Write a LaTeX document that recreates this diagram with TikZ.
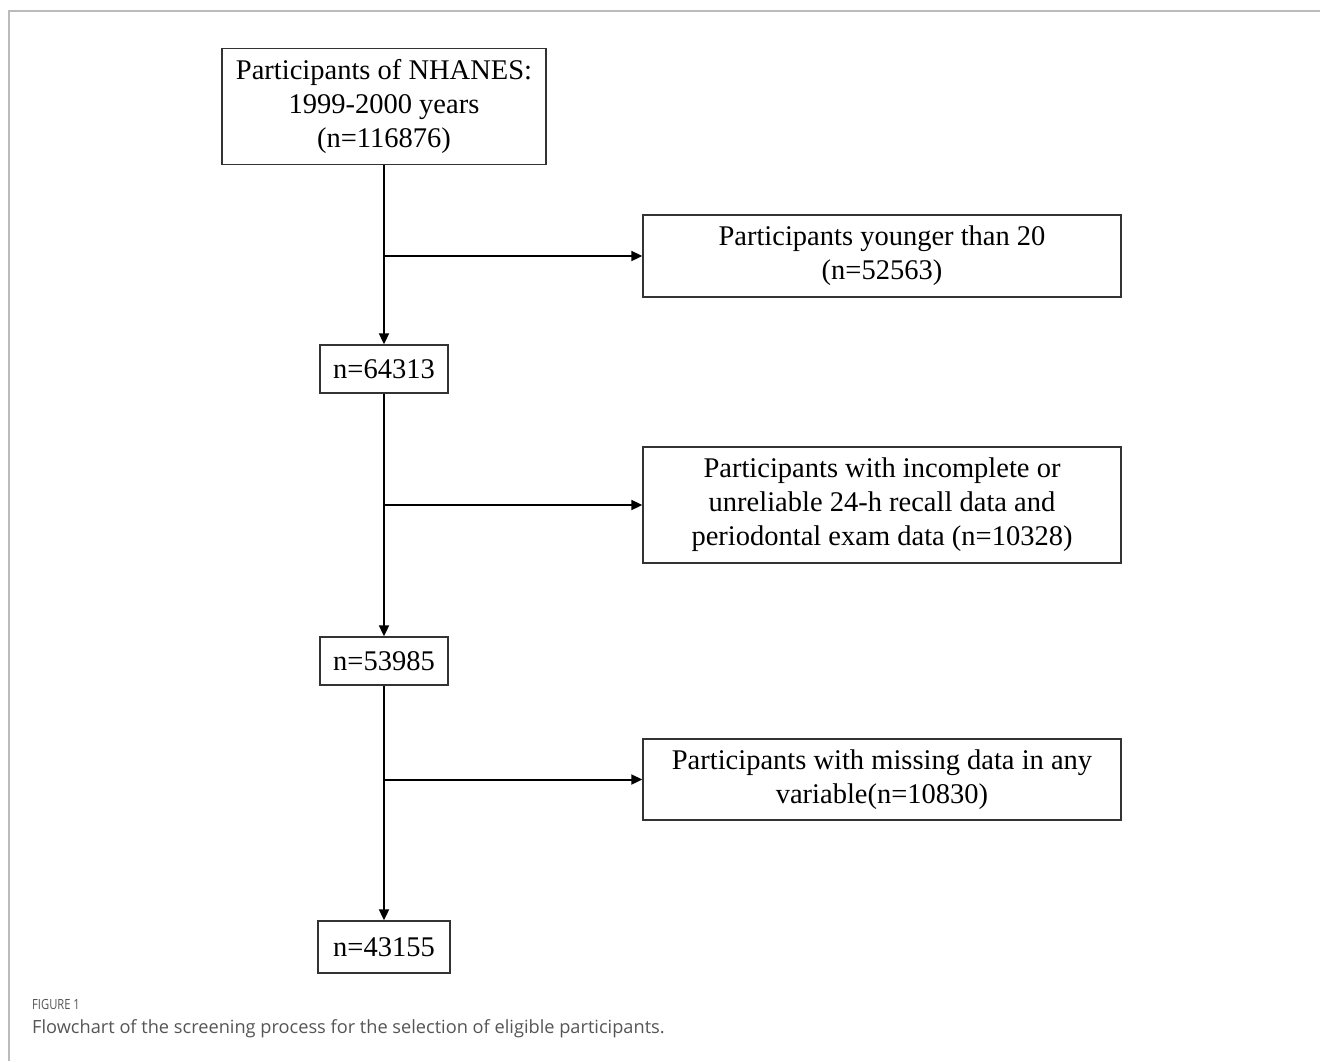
\documentclass[tikz,border=0pt]{standalone}
\usepackage{fontspec}
\setmainfont{Liberation Serif}
\newfontfamily\capfont{Open Sans}
\usetikzlibrary{arrows.meta}
\definecolor{framegray}{HTML}{BBBBBB}
\definecolor{capgray}{HTML}{555555}
\definecolor{boxline}{HTML}{333333}
\tikzset{
  flowbox/.style={draw=boxline, line width=1.4pt, inner sep=0pt, align=center,
    font=\fontsize{28.5}{34}\selectfont, text=black},
  arr/.style={draw=black, line width=2pt, -{Triangle[length=11pt,width=10pt]}},
  captext/.style={anchor=west, inner sep=0pt, text=capgray},
}
\begin{document}
\begin{tikzpicture}[x=1pt,y=-1pt]
\useasboundingbox (0,0) rectangle (1320,1061);
\draw[framegray, line width=1.6pt] (1320,11) -- (9,11) -- (9,1061);

\node[flowbox, minimum width=324pt, minimum height=116pt] (top) at (384,106.5)
  {Participants of NHANES:\\1999-2000 years\\(n=116876)};
\node[flowbox, minimum width=478pt, minimum height=82pt] (ex1) at (882,256)
  {Participants younger than 20\\(n=52563)};
\node[flowbox, minimum width=128pt, minimum height=48pt] (n1) at (384,369) {n=64313};
\node[flowbox, minimum width=478pt, minimum height=116pt] (ex2) at (882,505)
  {Participants with incomplete or\\unreliable 24-h recall data and\\periodontal exam data (n=10328)};
\node[flowbox, minimum width=128pt, minimum height=48pt] (n2) at (384,661) {n=53985};
\node[flowbox, minimum width=478pt, minimum height=81pt] (ex3) at (882,779.5)
  {Participants with missing data in any\\variable(n=10830)};
\node[flowbox, minimum width=132pt, minimum height=52pt] (n3) at (384,947) {n=43155};

\draw[arr] (top) -- (n1);
\draw[arr] (top.south |- ex1.west) -- (ex1.west);
\draw[arr] (n1) -- (n2);
\draw[arr] (n1.south |- ex2.west) -- (ex2.west);
\draw[arr] (n2) -- (n3);
\draw[arr] (n2.south |- ex3.west) -- (ex3.west);

\node[captext, font=\capfont\fontsize{14}{16}\selectfont] (figlabel) at (32,1004) {\scalebox{0.8}[1]{FIGURE 1}};
\node[captext, font=\capfont\fontsize{18.2}{22}\selectfont] (caption) at (32,1029)
  {Flowchart of the screening process for the selection of eligible participants.};
\end{tikzpicture}
\end{document}
